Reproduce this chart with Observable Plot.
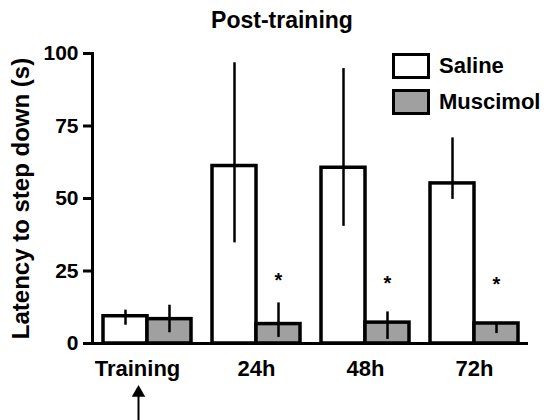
<!DOCTYPE html>
<html>
<head>
<meta charset="utf-8">
<script src="https://cdn.jsdelivr.net/npm/d3@7"></script>
<script src="https://cdn.jsdelivr.net/npm/@observablehq/plot@0.6"></script>
<style>
  html, body { margin: 0; padding: 0; background: #fff; }
  #wrap { position: relative; width: 544px; height: 420px; overflow: hidden;
          font-family: "Liberation Sans", Arial, sans-serif; font-weight: bold; color: #000; }
  #title { height: 40px; line-height: 40px; text-align: center; padding-left: 20px;
           font-size: 23px; box-sizing: border-box; }
  #legend { position: absolute; left: 392px; top: 53px; font-size: 22px; }
  .item { display: flex; align-items: center; height: 26px; margin-bottom: 10px; white-space: nowrap; }
  .sw { width: 32px; height: 20px; border: 3px solid #000; margin-right: 9px; flex: none; }
  svg g[aria-label^="y-axis"] line, svg g[aria-label^="y-axis"] path { stroke-width: 3px; stroke: #000; }
</style>
</head>
<body>
<div id="wrap">
  <div id="title">Post-training</div>
  <div id="chart"></div>
  <div id="legend"></div>
</div>
<script>
const groups = ["Training", "24h", "48h", "72h"];
const treatments = ["Saline", "Muscimol"];
const treatmentColors = ["#ffffff", "#a0a0a0"];
const salineMean = [9.4, 61.2, 60.6, 55.2];
const salineLow = [6.3, 34.7, 40.4, 49.7];
const salineHigh = [11.5, 96.8, 94.8, 70.9];
const muscimolMean = [8.4, 6.7, 7.2, 6.9];
const muscimolLow = [3.7, 2.1, 1.4, 3.4];
const muscimolHigh = [13.2, 14.0, 10.9, 6.9];
const starLabels = ["", "*", "*", "*"];
const starHeights = [null, 21.6, 20.8, 20.3];
const yTicks = [0, 25, 50, 75, 100];
const yLabel = "Latency to step down (s)";
const arrowGroup = "Training";
const arrowSpan = [-28, -17];

const saline = groups.map((g, i) => ({group: g, mean: salineMean[i], lo: salineLow[i], hi: salineHigh[i]}));
const muscimol = groups.map((g, i) => ({group: g, mean: muscimolMean[i], lo: muscimolLow[i], hi: muscimolHigh[i],
  star: starLabels[i], starY: starHeights[i]}));
const stars = muscimol.filter(d => d.star);
const half = 44;

const hasAxisMark = typeof Plot.axisY === "function";
const axisMarks = hasAxisMark
  ? [Plot.axisY({ticks: yTicks, tickSize: 9, tickPadding: 5, fontSize: 21, fontWeight: "bold", strokeWidth: 3, label: null})]
  : [];

const chart = Plot.plot({
  width: 544,
  height: 380,
  marginTop: 13,
  marginBottom: 77,
  marginLeft: 92,
  marginRight: 16,
  style: {fontFamily: "Liberation Sans, Arial, sans-serif", fontSize: "21px", fontWeight: "bold", color: "#000", background: "transparent", overflow: "visible"},
  x: {domain: groups, axis: null, paddingInner: 0.193, paddingOuter: 0.096},
  y: hasAxisMark
    ? {domain: [0, 100]}
    : {domain: [0, 100], ticks: yTicks, tickSize: 9, tickPadding: 5, line: true, label: null},
  marks: [
    ...axisMarks,
    hasAxisMark ? Plot.frame({anchor: "left", strokeWidth: 3}) : null,
    Plot.barY(saline, {x: "group", y: "mean", insetRight: half, fill: treatmentColors[0], stroke: "#000", strokeWidth: 3.5}),
    Plot.barY(muscimol, {x: "group", y: "mean", insetLeft: half, fill: treatmentColors[1], stroke: "#000", strokeWidth: 3.5}),
    Plot.ruleX(saline, {x: "group", y1: "lo", y2: "hi", dx: -half / 2, strokeWidth: 2.5}),
    Plot.ruleX(muscimol, {x: "group", y1: "lo", y2: "hi", dx: half / 2, strokeWidth: 2.5}),
    Plot.ruleY([0], {strokeWidth: 3}),
    Plot.text(stars, {x: "group", y: "starY", text: "star", dx: half / 2, fontSize: 20, fontWeight: "bold"}),
    Plot.text(groups.filter(g => g === "Training"), {x: d => d, frameAnchor: "bottom", dy: 32, dx: -10, text: d => d, fontSize: 22}),
    Plot.text(groups.filter(g => g !== "Training"), {x: d => d, frameAnchor: "bottom", dy: 32, text: d => d, fontSize: 22}),
    Plot.text([yLabel], {frameAnchor: "left", textAnchor: "middle", rotate: -90, dx: -71, text: d => d, fontSize: 24}),
    Plot.ruleX([arrowGroup], {x: d => d, y1: arrowSpan[0], y2: arrowSpan[1], dx: -9, strokeWidth: 2, clip: false}),
    Plot.dot([arrowGroup], {x: d => d, y: arrowSpan[1], dx: -9, symbol: "triangle", r: 5, fill: "#000", stroke: "none"})
  ]
});
document.getElementById("chart").appendChild(chart);

const legend = document.getElementById("legend");
treatments.forEach((t, i) => {
  const item = document.createElement("div");
  item.className = "item";
  const sw = document.createElement("div");
  sw.className = "sw";
  sw.style.background = treatmentColors[i];
  const label = document.createElement("span");
  label.textContent = t;
  item.appendChild(sw);
  item.appendChild(label);
  legend.appendChild(item);
});
</script>
</body>
</html>
